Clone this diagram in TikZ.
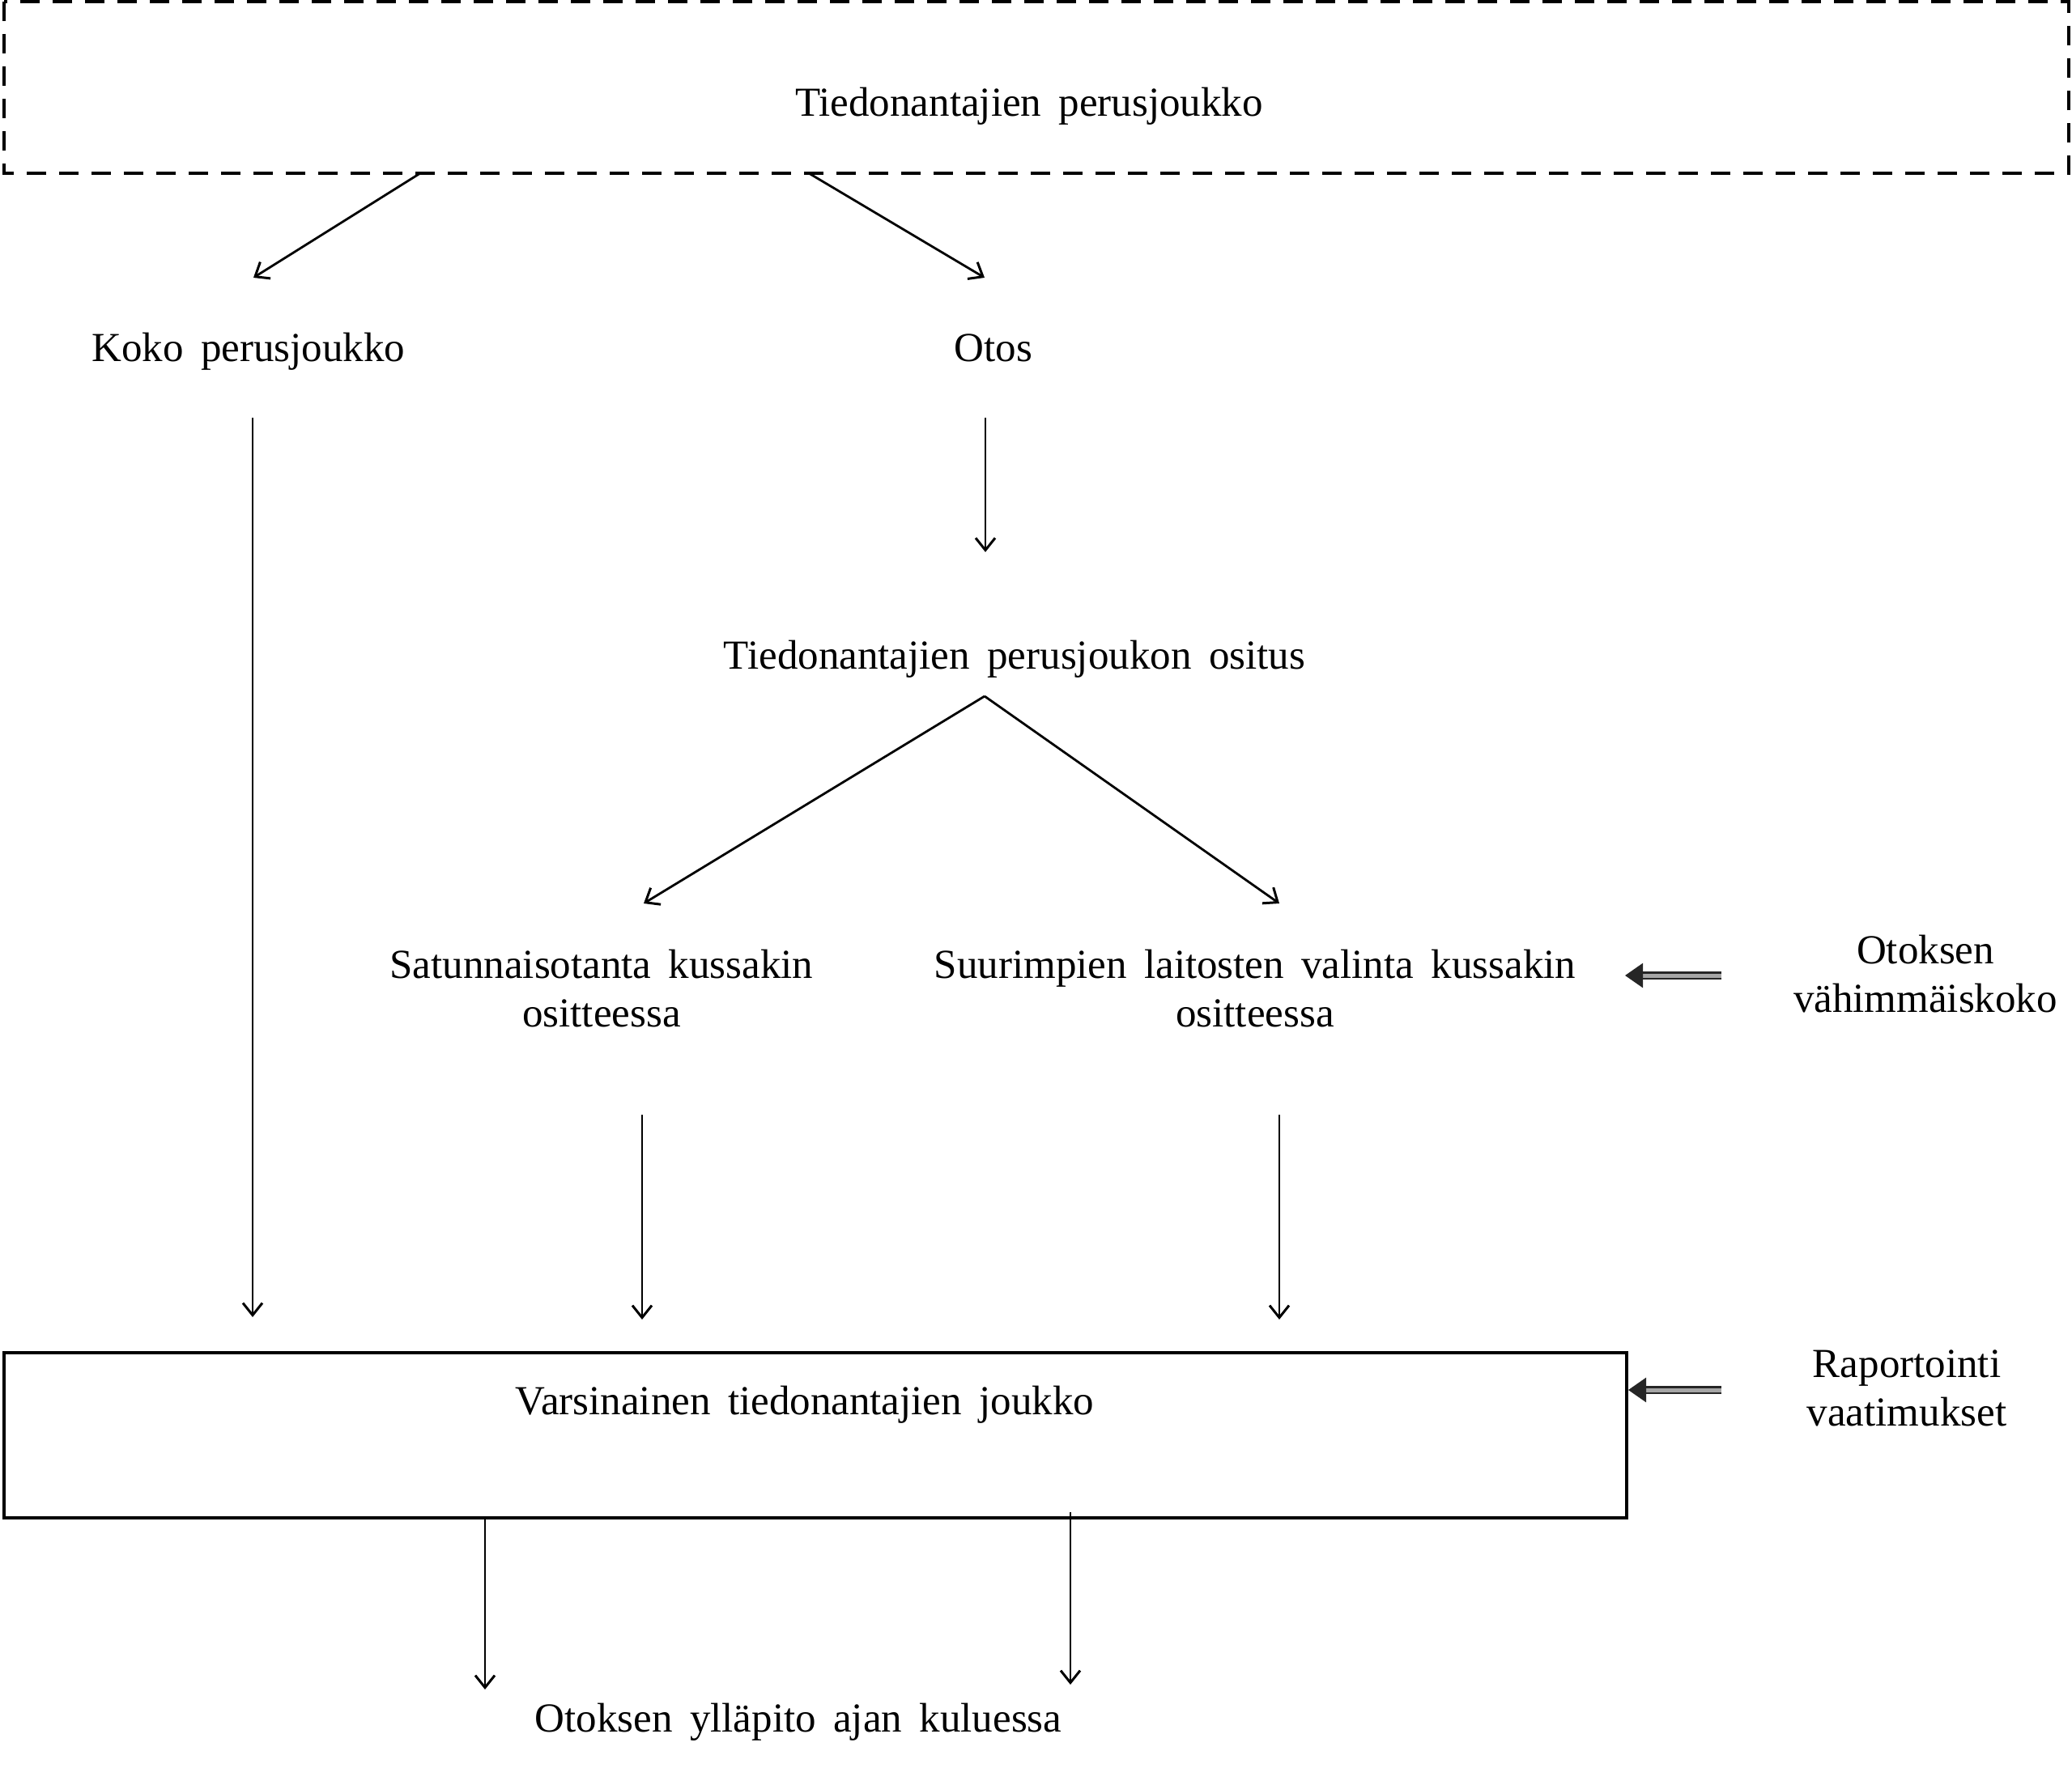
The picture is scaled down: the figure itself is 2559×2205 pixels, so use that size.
\documentclass[tikz,border=0pt]{standalone}
\usepackage{fontspec}
\setmainfont{Liberation Serif}
\usetikzlibrary{arrows.meta}
\begin{document}
\begin{tikzpicture}[x=1pt,y=-1pt,
  lblm/.style={inner sep=0pt, align=center, font={\fontsize{51}{60}\selectfont\spaceskip=0.42em\relax}},
  lbl/.style={lblm, text height=34pt, text depth=0pt},
  conn/.style={line width=2.8pt, -{Straight Barb[length=15pt,width=24pt,line width=3pt]}},
  dbl/.style={draw=black!85, line width=2.6pt, double=black!35, double distance=5pt, -{Triangle[length=22pt,width=30pt]}}]
\useasboundingbox (0,0) rectangle (2559,2205);
% dashed box
\draw[line width=4.5pt, dash pattern=on 24pt off 16pt] (5,2) rectangle (2555,214);
\node[lbl] (top) at (1271,127) {Tiedonantajien perusjoukko};
\coordinate (tA) at (519,214);
\coordinate (tB) at (999,214);
\node[lbl] (koko) at (307,429) {Koko perusjoukko};
\node[lbl] (otos) at (1227,429) {Otos};
\coordinate (kokoIn) at (313,343);
\coordinate (otosIn) at (1216,343);
\draw[conn] (tA) -- (kokoIn);
\draw[conn] (tB) -- (otosIn);
% from Otos down
\coordinate (otosOut) at (1217,516);
\coordinate (ositIn) at (1217,682);
\draw[conn] (otosOut) -- (ositIn);
\node[lbl] (osit) at (1253,809) {Tiedonantajien perusjoukon ositus};
\coordinate (ositOut) at (1216,860);
\coordinate (satIn) at (795,1116);
\coordinate (suuIn) at (1580,1116);
\draw[conn] (ositOut) -- (satIn);
\draw[conn] (ositOut) -- (suuIn);
\node[lblm] (sat) at (743,1221) {Satunnaisotanta kussakin\\ositteessa};
\node[lblm] (suu) at (1550,1221) {Suurimpien laitosten valinta kussakin\\ositteessa};
\node[lblm] (vah) at (2378,1203) {Otoksen\\vähimmäiskoko};
\coordinate (vahOut) at (2126,1205);
\coordinate (suuR) at (2007,1205);
\draw[dbl] (vahOut) -- (suuR);
% long left arrow
\coordinate (kokoOut) at (312,516);
\coordinate (vA) at (312,1627);
\draw[conn] (kokoOut) -- (vA);
\coordinate (satOut) at (793,1377);
\coordinate (vB) at (793,1630);
\draw[conn] (satOut) -- (vB);
\coordinate (suuOut) at (1580,1377);
\coordinate (vC) at (1580,1630);
\draw[conn] (suuOut) -- (vC);
% solid box
\draw[line width=3.5pt] (5,1671) rectangle (2009,1875);
\node[lbl] (vars) at (994,1730) {Varsinainen tiedonantajien joukko};
\node[lblm] (rap) at (2355,1715) {Raportointi\\vaatimukset};
\coordinate (rapOut) at (2126,1717);
\coordinate (boxR) at (2011,1717);
\draw[dbl] (rapOut) -- (boxR);
% bottom arrows
\coordinate (bA) at (599,1875);
\coordinate (bAend) at (599,2087);
\coordinate (bB) at (1322,1868);
\coordinate (bBend) at (1322,2081);
\draw[conn] (bA) -- (bAend);
\draw[conn] (bB) -- (bBend);
\node[lbl] (yll) at (986,2122) {Otoksen ylläpito ajan kuluessa};
\end{tikzpicture}
\end{document}
